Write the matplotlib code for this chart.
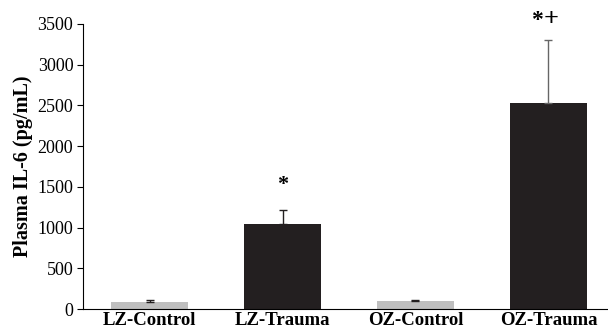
import matplotlib
matplotlib.use("Agg")
import matplotlib.pyplot as plt

categories = ["LZ-Control", "LZ-Trauma", "OZ-Control", "OZ-Trauma"]
values = [90, 1048, 98, 2526]
errors = [25, 165, 15, 777]
colors = ["#bfbfbf", "#231f20", "#bfbfbf", "#231f20"]
err_colors = ["#231f20", "#231f20", "#231f20", "#666666"]
yticks = [0, 500, 1000, 1500, 2000, 2500, 3000, 3500]

plt.rcParams['font.family'] = ['Liberation Serif', 'DejaVu Serif']

W, H = 608, 333
fig = plt.figure(figsize=(W/100, H/100), dpi=100)
left, right, bottom, top = 83, 615, 309, 24
ax = fig.add_axes([left/W, 1 - bottom/H, (right-left)/W, (bottom-top)/H])

x = list(range(len(categories)))
ax.bar(x, values, width=0.58, color=colors, zorder=2)
for xi, v, e, ec in zip(x, values, errors, err_colors):
    ax.errorbar([xi], [v], yerr=[[0], [e]], fmt='none', ecolor=ec,
                elinewidth=1.0, capsize=3, capthick=1.0, zorder=3)

# significance markers
ax.text(1, 1461, "*", ha='center', va='baseline', fontsize=16,
        fontweight='bold', clip_on=False)
ax.text(2.915, 3470, "*", ha='center', va='baseline', fontsize=17,
        fontweight='bold', clip_on=False)
ax.text(3.02, 3480, "+", ha='center', va='baseline', fontsize=19,
        fontweight='bold', clip_on=False)

ax.set_xlim(-0.5, 3.5)
ax.set_ylim(0, 3500)
ax.set_yticks(yticks)
ax.set_yticklabels([str(t) for t in yticks], fontsize=13)
ax.set_xticks(x)
ax.set_xticklabels(categories, fontsize=13.5, fontweight='bold')
ax.tick_params(axis='x', length=0, pad=2)
ax.tick_params(axis='y', length=4, width=0.8, direction='out', pad=3)
for s in ['top', 'right']:
    ax.spines[s].set_visible(False)
ax.spines['left'].set_linewidth(0.8)
ax.spines['bottom'].set_linewidth(0.8)
ax.set_ylabel("Plasma IL-6 (pg/mL)", fontsize=14.5, fontweight='bold', labelpad=3)

fig.savefig("out.png", dpi=100)
